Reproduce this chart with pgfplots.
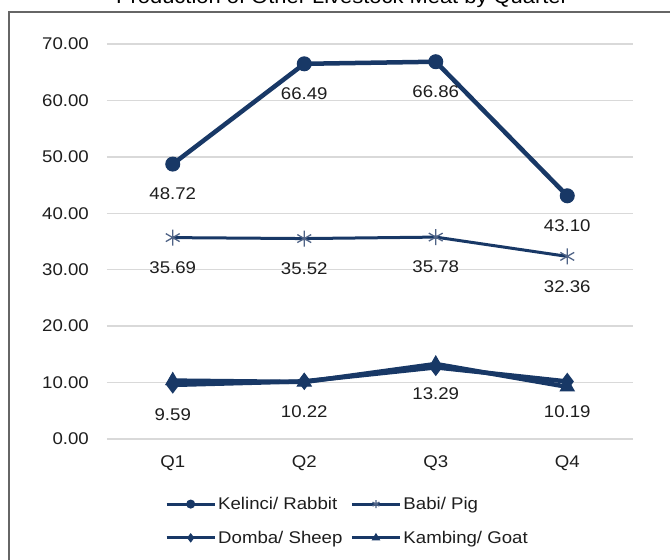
\documentclass[border=0pt]{standalone}
\usepackage{fontspec}
\setmainfont{Liberation Sans}[FakeStretch=1.1]
\usepackage{pgfplots}
\pgfplotsset{compat=1.18}
\definecolor{navy}{RGB}{24,56,102}
\definecolor{pigc}{RGB}{80,100,135}
\definecolor{gridc}{RGB}{217,217,217}
\definecolor{txt}{RGB}{30,30,30}
\begin{document}
\begin{tikzpicture}
\useasboundingbox (-107bp,-121bp) rectangle (563bp,439bp);
\fill[white] (-107bp,-121bp) rectangle (563bp,439bp);
\node[anchor=base, text=black, inner sep=0pt] at (235bp,435.5bp) {\fontsize{20}{24}\selectfont Production of Other Livestock Meat by Quarter};
\draw[gray!80!black, line width=1.2bp] (-98bp,-130bp) -- (-98bp,427bp) -- (580bp,427bp);
\begin{axis}[
  scale only axis,
  width=526bp, height=395bp,
  xmin=0.5, xmax=4.5, ymin=0, ymax=70,
  xtick={1,2,3,4}, xticklabels={Q1,Q2,Q3,Q4},
  ytick={0,10,...,70},
  major tick length=0pt,
  axis line style={draw=none},
  ymajorgrids, grid style={gridc, line width=1.5bp},
  /pgf/number format/assume math mode=true,
  yticklabel={\pgfmathprintnumber[fixed,fixed zerofill,precision=2]{\tick}},
  tick label style={font=\fontsize{17}{20}\selectfont, text=txt},
  yticklabel style={anchor=east, inner sep=0pt, xshift=-18bp},
  xticklabel style={anchor=center, inner sep=0pt, yshift=-24bp},
  clip=false,
  nodes near coords style={font=\fontsize{17}{20}\selectfont, text=txt, anchor=center, yshift=-30bp, inner sep=0pt},
  legend columns=2,
  legend style={draw=none, fill=none, at={(58bp,-56bp)}, anchor=north west,
    font=\fontsize{17}{20}\selectfont, text=txt, inner sep=0pt, row sep=16bp,
    /tikz/every even column/.append style={column sep=6bp},
    nodes={inner sep=2bp}},
  legend cell align=left,
  legend image code/.code={\draw[mark repeat=2,mark phase=2,#1,line width=3bp,mark size=4bp] plot coordinates {(0bp,0bp) (24bp,0bp) (48bp,0bp)};},
]
\addplot[navy, line width=4.5bp, mark=*, mark size=7bp, mark options={line width=1bp},
  nodes near coords, point meta=y,
  nodes near coords={\pgfmathprintnumber[fixed,fixed zerofill,precision=2,assume math mode=true]{\pgfplotspointmeta}}]
  coordinates {(1,48.72) (2,66.49) (3,66.86) (4,43.10)};
\addlegendentry{Kelinci/ Rabbit}
\addplot[navy, line width=3bp, mark=asterisk, mark size=8bp, mark options={pigc, line width=1.3bp},
  nodes near coords, point meta=y,
  nodes near coords={\pgfmathprintnumber[fixed,fixed zerofill,precision=2,assume math mode=true]{\pgfplotspointmeta}}]
  coordinates {(1,35.69) (2,35.52) (3,35.78) (4,32.36)};
\addlegendentry{Babi/ Pig}
\addplot[navy, line width=4.5bp, mark=diamond*, mark size=8bp, mark options={line width=1bp}]
  coordinates {(1,9.59) (2,10.22) (3,12.70) (4,10.19)};
\addlegendentry{Domba/ Sheep}
\addplot[navy, line width=4.5bp, mark=triangle*, mark size=8bp, mark options={line width=1bp}]
  coordinates {(1,10.35) (2,10.10) (3,13.29) (4,9.25)};
\addlegendentry{Kambing/ Goat}
\addplot[draw=none, mark=none, forget plot, nodes near coords, point meta=explicit symbolic]
  coordinates {(1,9.59)[9.59] (2,10.22)[10.22] (3,13.29)[13.29] (4,10.19)[10.19]};
\end{axis}
\end{tikzpicture}
\end{document}
